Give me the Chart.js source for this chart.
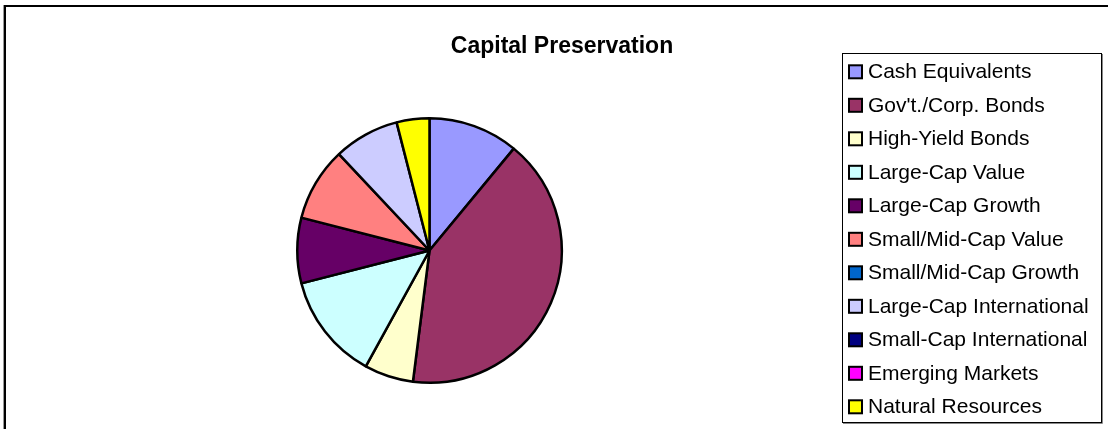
<!DOCTYPE html>
<html>
<head>
<meta charset="utf-8">
<script src="https://cdn.jsdelivr.net/npm/chart.js@4.4.0/dist/chart.umd.min.js"></script>
<style>
html,body{margin:0;padding:0;background:#fff;}
#wrap{position:relative;width:1108px;height:429px;}
</style>
</head>
<body>
<div id="wrap"><canvas id="c" width="1108" height="429"></canvas></div>
<script>
const chartTitle = "Capital Preservation";
const categories = ["Cash Equivalents","Gov't./Corp. Bonds","High-Yield Bonds","Large-Cap Value","Large-Cap Growth","Small/Mid-Cap Value","Small/Mid-Cap Growth","Large-Cap International","Small-Cap International","Emerging Markets","Natural Resources"];
const allocation = [11, 41, 6, 13, 8, 9, 0, 8, 0, 0, 4];
const colors = ["#9999FF","#993366","#FFFFCC","#CCFFFF","#660066","#FF8080","#0066CC","#CCCCFF","#000080","#FF00FF","#FFFF00"];

const decor = {
  id: 'decor',
  beforeDraw(chart) {
    const ctx = chart.ctx;
    ctx.save();
    ctx.fillStyle = '#fff';
    ctx.fillRect(0, 0, chart.width, chart.height);
    // outer chart border
    ctx.strokeStyle = '#000';
    ctx.lineWidth = 2;
    ctx.beginPath();
    ctx.moveTo(5, 440);
    ctx.lineTo(5, 6);
    ctx.lineTo(1120, 6);
    ctx.stroke();
    ctx.strokeStyle = '#999';
    ctx.lineWidth = 1;
    ctx.beginPath();
    ctx.moveTo(3.5, 440);
    ctx.lineTo(3.5, 5);
    ctx.stroke();
    ctx.restore();
  },
  afterDraw(chart) {
    const ctx = chart.ctx;
    ctx.save();
    // title
    ctx.fillStyle = '#000';
    ctx.font = 'bold 23px "Liberation Sans", Arial, sans-serif';
    ctx.textAlign = 'center';
    ctx.textBaseline = 'alphabetic';
    ctx.fillText(chartTitle, 562, 53);
    // legend box
    ctx.strokeStyle = '#000';
    ctx.lineWidth = 1;
    ctx.strokeRect(842.5, 53.5, 259, 369);
    ctx.strokeStyle = '#888';
    ctx.beginPath();
    ctx.moveTo(843, 423.5); ctx.lineTo(1102.5, 423.5); ctx.lineTo(1102.5, 54);
    ctx.stroke();
    ctx.font = '21px "Liberation Sans", Arial, sans-serif';
    ctx.textAlign = 'left';
    const ds = chart.data.datasets[0];
    chart.data.labels.forEach((lab, i) => {
      const cy = 71.3 + 33.5 * i;
      ctx.fillStyle = ds.backgroundColor[i];
      ctx.fillRect(849, cy - 6, 13, 13);
      ctx.strokeStyle = '#000';
      ctx.lineWidth = 2;
      ctx.strokeRect(849, cy - 6, 13, 13);
      ctx.fillStyle = '#000';
      ctx.fillText(lab, 868, cy + 7);
    });
    ctx.restore();
  }
};

new Chart(document.getElementById('c'), {
  type: 'pie',
  data: {
    labels: categories,
    datasets: [{
      data: allocation,
      backgroundColor: colors,
      borderColor: '#000',
      borderWidth: 2.5,
      borderAlign: 'center'
    }]
  },
  options: {
    responsive: false,
    animation: false,
    devicePixelRatio: 1,
    layout: { padding: { left: 296, right: 545, top: 117, bottom: 45 } },
    plugins: {
      legend: { display: false },
      title: { display: false },
      tooltip: { enabled: false }
    }
  },
  plugins: [decor]
});
</script>
</body>
</html>
